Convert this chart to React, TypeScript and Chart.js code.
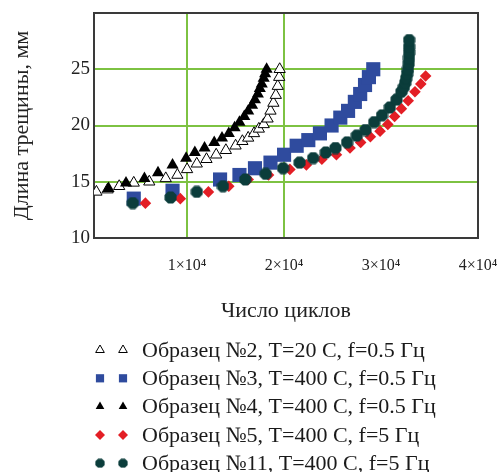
import React, { useEffect, useRef } from "react";
import { Chart, registerables } from "chart.js";
import { drawPoint } from "chart.js/helpers";

Chart.register(...registerables);

// ---- data ----
const xTickValues = [10000, 20000, 30000, 40000];
const xTickLabels = ["1×10⁴", "2×10⁴", "3×10⁴", "4×10⁴"];
const yTickValues = [10, 15, 20, 25];

const s2x = [650, 1800, 3000, 4500, 6100, 7800, 9000, 10000, 11000, 12000, 13000, 14000, 15000, 15700, 16300, 16900, 17400, 17900, 18300, 18600, 18900, 19150, 19350, 19500, 19550];
const s2y = [14.1, 14.3, 14.6, 14.9, 15.0, 15.3, 15.6, 16.1, 16.6, 17.0, 17.4, 17.8, 18.2, 18.6, 18.9, 19.3, 19.7, 20.1, 20.6, 21.3, 22.0, 22.7, 23.5, 24.3, 25.0];

const s3x = [4500, 8500, 13400, 15400, 17000, 18600, 20000, 21300, 22500, 23700, 24900, 25800, 26600, 27300, 27850, 28350, 28750, 29200];
const s3y = [13.5, 14.2, 15.2, 15.6, 16.2, 16.7, 17.4, 18.2, 18.7, 19.3, 20.0, 20.7, 21.3, 22.1, 22.8, 23.6, 24.3, 25.0];

const s4x = [1900, 3700, 5600, 7000, 8500, 9900, 10800, 11800, 12800, 13600, 14300, 14900, 15400, 15900, 16300, 16700, 17000, 17300, 17500, 17700, 17900, 18050, 18200];
const s4y = [14.4, 14.9, 15.3, 15.8, 16.5, 17.1, 17.6, 18.0, 18.5, 18.9, 19.3, 19.8, 20.3, 20.8, 21.3, 21.8, 22.3, 22.8, 23.3, 23.7, 24.2, 24.6, 25.0];

const s5x = [5700, 9300, 12200, 14300, 16300, 18400, 20600, 22300, 23900, 25400, 26800, 27900, 28900, 29900, 30700, 31400, 32100, 32800, 33500, 34100, 34600];
const s5y = [13.1, 13.5, 14.1, 14.6, 15.2, 15.6, 16.1, 16.5, 17.0, 17.4, 18.0, 18.5, 19.0, 19.5, 20.1, 20.8, 21.5, 22.2, 23.0, 23.7, 24.4];

const s11x = [4400, 8300, 11000, 13700, 16000, 18100, 19900, 21600, 23000, 24300, 25300, 26500, 27500, 28400, 29300, 30100, 30900, 31600, 32100, 32350, 32500, 32600, 32700, 32780, 32850, 32880, 32900, 32900, 32900];
const s11y = [13.1, 13.6, 14.1, 14.6, 15.2, 15.7, 16.2, 16.7, 17.1, 17.6, 18.0, 18.5, 19.1, 19.6, 20.3, 20.9, 21.6, 22.3, 23.0, 23.4, 23.8, 24.2, 24.6, 25.0, 25.5, 26.0, 26.5, 27.0, 27.6];

const seriesLabels = [
  "Образец №2, T=20 C, f=0.5 Гц",
  "Образец №3, T=400 C, f=0.5 Гц",
  "Образец №4, T=400 C, f=0.5 Гц",
  "Образец №5, T=400 C, f=5 Гц",
  "Образец №11, T=400 C, f=5 Гц",
];

const xTitle = "Число циклов";
const yTitle = "Длина трещины, мм";

// ---- styles ----
const FONT = '"Liberation Serif", "Times New Roman", serif';
const GRID = "#7dc242";
const BLUE = "#2f4b9e";
const RED = "#e31e25";
const TEAL = "#0b3d3b";

function octagon(size: number, color: string): HTMLCanvasElement {
  const c = document.createElement("canvas");
  c.width = size;
  c.height = size;
  const ctx = c.getContext("2d")!;
  const r = size / 2;
  ctx.beginPath();
  for (let i = 0; i < 8; i++) {
    const a = Math.PI / 8 + (i * Math.PI) / 4;
    ctx.lineTo(r + r * Math.cos(a), r + r * Math.sin(a));
  }
  ctx.closePath();
  ctx.fillStyle = color;
  ctx.fill();
  return c;
}

const pts = (xs: number[], ys: number[]) => xs.map((x, i) => ({ x, y: ys[i] }));

export default function App() {
  const ref = useRef<HTMLCanvasElement | null>(null);

  useEffect(() => {
    document.body.style.margin = "0";
    const oct = octagon(13, TEAL);
    const octSmall = octagon(10, TEAL);

    const legendMarkers = [
      { pointStyle: "triangle", radius: 5, fill: "#fff", stroke: "#000", borderWidth: 1 },
      { pointStyle: "rect", radius: 5.8, fill: BLUE, stroke: BLUE, borderWidth: 0 },
      { pointStyle: "triangle", radius: 5, fill: "#000", stroke: "#000", borderWidth: 0 },
      { pointStyle: "rectRot", radius: 5, fill: RED, stroke: RED, borderWidth: 0 },
      { pointStyle: octSmall, radius: 5, fill: TEAL, stroke: TEAL, borderWidth: 0 },
    ];

    const framePlugin = {
      id: "frame",
      beforeDatasetsDraw(chart: any) {
        const { ctx, chartArea: a } = chart;
        ctx.save();
        ctx.strokeStyle = "#3a3a3a";
        ctx.lineWidth = 2;
        ctx.strokeRect(a.left, a.top, a.right - a.left, a.bottom - a.top);
        ctx.restore();
      },
    };

    const legendPlugin = {
      id: "customLegend",
      afterDraw(chart: any) {
        const ctx = chart.ctx;
        ctx.save();
        ctx.font = `22px ${FONT}`;
        ctx.textBaseline = "middle";
        ctx.textAlign = "left";
        seriesLabels.forEach((label, i) => {
          const y = 350 + 28.3 * i;
          const m = legendMarkers[i];
          [100, 123].forEach((x) => {
            ctx.fillStyle = m.fill;
            ctx.strokeStyle = m.stroke;
            ctx.lineWidth = m.borderWidth || 1;
            drawPoint(ctx, { pointStyle: m.pointStyle as any, radius: m.radius, rotation: 0, borderWidth: m.borderWidth }, x, y);
          });
          ctx.fillStyle = "#1a1a1a";
          ctx.fillText(label, 142, y + 1);
        });
        ctx.restore();
      },
    };

    const chart = new Chart(ref.current!, {
      type: "scatter",
      data: {
        datasets: [
          {
            label: seriesLabels[0],
            data: pts(s2x, s2y),
            pointStyle: "triangle",
            pointRadius: 6.5,
            backgroundColor: "#ffffff",
            borderColor: "#000000",
            borderWidth: 1,
            order: 4,
          },
          {
            label: seriesLabels[1],
            data: pts(s3x, s3y),
            pointStyle: "rect",
            pointRadius: 10,
            backgroundColor: BLUE,
            borderColor: BLUE,
            borderWidth: 0,
            order: 3,
          },
          {
            label: seriesLabels[2],
            data: pts(s4x, s4y),
            pointStyle: "triangle",
            pointRadius: 7,
            backgroundColor: "#000000",
            borderColor: "#000000",
            borderWidth: 0,
            order: 2,
          },
          {
            label: seriesLabels[3],
            data: pts(s5x, s5y),
            pointStyle: "rectRot",
            pointRadius: 5.8,
            backgroundColor: RED,
            borderColor: RED,
            borderWidth: 0,
            order: 1,
          },
          {
            label: seriesLabels[4],
            data: pts(s11x, s11y),
            pointStyle: oct as any,
            pointRadius: 6.5,
            backgroundColor: TEAL,
            borderColor: TEAL,
            borderWidth: 0,
            order: 0,
          },
        ],
      },
      options: {
        animation: false,
        responsive: true,
        maintainAspectRatio: false,
        layout: { padding: { top: 13, right: 21, left: 0, bottom: 0 } },
        plugins: {
          legend: { display: false },
          tooltip: { enabled: false },
        },
        scales: {
          x: {
            type: "linear",
            min: 400,
            max: 40000,
            afterBuildTicks: (scale: any) => {
              scale.ticks = xTickValues.map((v) => ({ value: v }));
            },
            afterFit: (scale: any) => {
              scale.height = 234;
              scale.paddingLeft = 0;
              scale.paddingRight = 0;
            },
            border: { display: false },
            grid: {
              drawTicks: false,
              lineWidth: 2,
              color: (c: any) => (c.tick && (c.tick.value === 10000 || c.tick.value === 20000) ? GRID : "rgba(0,0,0,0)"),
            },
            ticks: {
              autoSkip: false,
              maxRotation: 0,
              padding: 18,
              color: "#222",
              font: { family: FONT, size: 16 },
              callback: (v: any) => xTickLabels[xTickValues.indexOf(Number(v))],
            },
            title: {
              display: true,
              text: xTitle,
              color: "#222",
              font: { family: FONT, size: 22 },
              padding: { top: 0, bottom: 148 },
            },
          },
          y: {
            type: "linear",
            min: 10,
            max: 30,
            afterBuildTicks: (scale: any) => {
              scale.ticks = yTickValues.map((v) => ({ value: v }));
            },
            afterFit: (scale: any) => {
              scale.width = 94;
              scale.paddingTop = 0;
              scale.paddingBottom = 0;
            },
            border: { display: false },
            grid: {
              drawTicks: false,
              lineWidth: 2,
              color: (c: any) => (c.tick && c.tick.value > 10 ? GRID : "rgba(0,0,0,0)"),
            },
            ticks: {
              padding: 4,
              color: "#222",
              font: { family: FONT, size: 19 },
              callback: (v: any) => String(v),
            },
            title: {
              display: true,
              text: yTitle,
              color: "#222",
              font: { family: FONT, size: 22 },
              padding: { top: 9, bottom: 0 },
            },
          },
        },
      },
      plugins: [framePlugin, legendPlugin],
    });
    return () => chart.destroy();
  }, []);

  return (
    <div style={{ width: 499, height: 472, position: "relative", background: "#fff" }}>
      <canvas ref={ref} />
    </div>
  );
}
